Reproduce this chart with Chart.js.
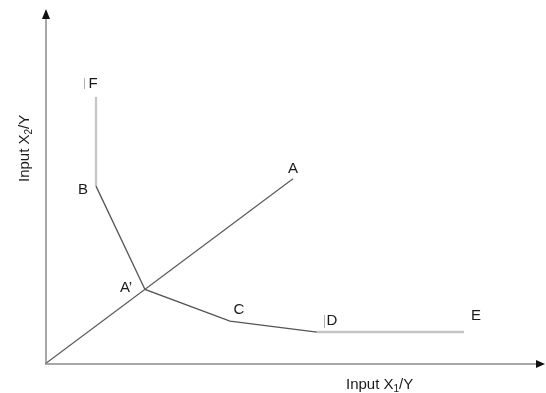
<!DOCTYPE html>
<html>
<head>
<meta charset="utf-8">
<script src="https://cdn.jsdelivr.net/npm/chart.js@4.4.1/dist/chart.umd.min.js"></script>
<style>
  html, body { margin:0; padding:0; background:#fff; }
  #wrap { width:546px; height:393px; }
</style>
</head>
<body>
<div id="wrap"><canvas id="c" width="546" height="393"></canvas></div>
<script>
// points (x1/y, x2/y in arbitrary units 0..100)
const pointNames = ["F", "B", "A'", "C", "D", "E", "A"];
const pointX = [10.2, 10.2, 20.0, 37.0, 54.4, 83.8, 49.6];
const pointY = [75.2, 50.1, 21.0, 12.1, 9.0, 9.0, 52.2];

// which points make each line
const rayLine = ["O", "A"];
const isoDark = ["B", "A'", "C", "D"];
const isoLightTop = ["F", "B"];
const isoLightEnd = ["D", "E"];

const xTitle = ["Input X", "1", "/Y"];
const yTitle = ["Input X", "2", "/Y"];

function pt(name) {
    if (name == "O") return {x:0, y:0};
    let i = pointNames.indexOf(name);
    return {x: pointX[i], y: pointY[i]};
}

const FONT = '"Liberation Sans", Arial, sans-serif';

// draws "Input X" + subscript + "/Y" starting at (0,0) baseline
function subText(ctx, parts) {
    ctx.font = "15px " + FONT;
    ctx.textAlign = "left";
    ctx.textBaseline = "alphabetic";
    ctx.fillText(parts[0], 0, 0);
    let w = ctx.measureText(parts[0]).width;
    ctx.font = "10px " + FONT;
    ctx.fillText(parts[1], w, 3);
    w += ctx.measureText(parts[1]).width;
    ctx.font = "15px " + FONT;
    ctx.fillText(parts[2], w, 0);
}

const axesPlugin = {
    id: "axesPlugin",
    afterDatasetsDraw(chart) {
        const ctx = chart.ctx;
        const xs = chart.scales.x, ys = chart.scales.y;
        const ox = xs.getPixelForValue(0), oy = ys.getPixelForValue(0);
        const xr = xs.getPixelForValue(xs.max), yt = ys.getPixelForValue(ys.max);
        ctx.save();
        ctx.strokeStyle = "#8a8a8a";
        ctx.lineWidth = 1.5;
        ctx.beginPath();
        ctx.moveTo(ox, oy); ctx.lineTo(xr - 6, oy);
        ctx.moveTo(ox + 1, oy); ctx.lineTo(ox + 1, yt + 6);
        ctx.stroke();
        ctx.fillStyle = "#111";
        ctx.beginPath();
        ctx.moveTo(xr, oy); ctx.lineTo(xr - 9, oy - 4); ctx.lineTo(xr - 9, oy + 4); ctx.closePath();
        ctx.fill();
        ctx.beginPath();
        ctx.moveTo(ox + 1, yt); ctx.lineTo(ox - 3, yt + 10); ctx.lineTo(ox + 5, yt + 10); ctx.closePath();
        ctx.fill();

        // point labels
        const offs = {"F":[-3,-13], "B":[-13,4], "A'":[-19,-2], "C":[9,-11], "D":[15,-11], "E":[12,-16], "A":[0,-10]};
        ctx.fillStyle = "#1a1a1a";
        ctx.font = "15px " + FONT;
        ctx.textAlign = "center";
        ctx.textBaseline = "middle";
        pointNames.forEach(n => {
            let p = pt(n);
            let px = xs.getPixelForValue(p.x), py = ys.getPixelForValue(p.y);
            let lbl = n == "A'" ? "A\u2019" : n;
            ctx.fillText(lbl, px + offs[n][0], py + offs[n][1]);
        });
        // little grey marks beside F and D
        ctx.strokeStyle = "#b0b0b0";
        ctx.lineWidth = 1;
        let f = pt("F"), d = pt("D");
        let fx = xs.getPixelForValue(f.x), fy = ys.getPixelForValue(f.y);
        let dx = xs.getPixelForValue(d.x), dy = ys.getPixelForValue(d.y);
        ctx.beginPath();
        ctx.moveTo(fx - 11.5, fy - 19); ctx.lineTo(fx - 11.5, fy - 8);
        ctx.moveTo(dx + 7.5, dy - 17); ctx.lineTo(dx + 7.5, dy - 4);
        ctx.stroke();

        // axis titles
        ctx.fillStyle = "#1a1a1a";
        ctx.save();
        ctx.translate(346, 389);
        subText(ctx, xTitle);
        ctx.restore();
        ctx.save();
        ctx.translate(29, 182);
        ctx.rotate(-Math.PI / 2);
        subText(ctx, yTitle);
        ctx.restore();
        ctx.restore();
    }
};

new Chart(document.getElementById("c"), {
    type: "scatter",
    data: {
        datasets: [
            {data: rayLine.map(pt), borderColor: "#5a5a5a", borderWidth: 1.2},
            {data: isoDark.map(pt), borderColor: "#555", borderWidth: 1.3},
            {data: isoLightTop.map(pt), borderColor: "#c4c4c4", borderWidth: 2.2},
            {data: isoLightEnd.map(pt), borderColor: "#c4c4c4", borderWidth: 2.5},
        ].map(d => Object.assign(d, {showLine: true, pointRadius: 0, pointHoverRadius: 0, tension: 0, fill: false}))
    },
    options: {
        responsive: false,
        animation: false,
        events: [],
        layout: {padding: {left: 45, right: 1, top: 9, bottom: 29}},
        plugins: {legend: {display: false}, tooltip: {enabled: false}},
        scales: {
            x: {type: "linear", min: 0, max: 100, display: false},
            y: {type: "linear", min: 0, max: 100, display: false}
        }
    },
    plugins: [axesPlugin]
});
</script>
</body>
</html>
